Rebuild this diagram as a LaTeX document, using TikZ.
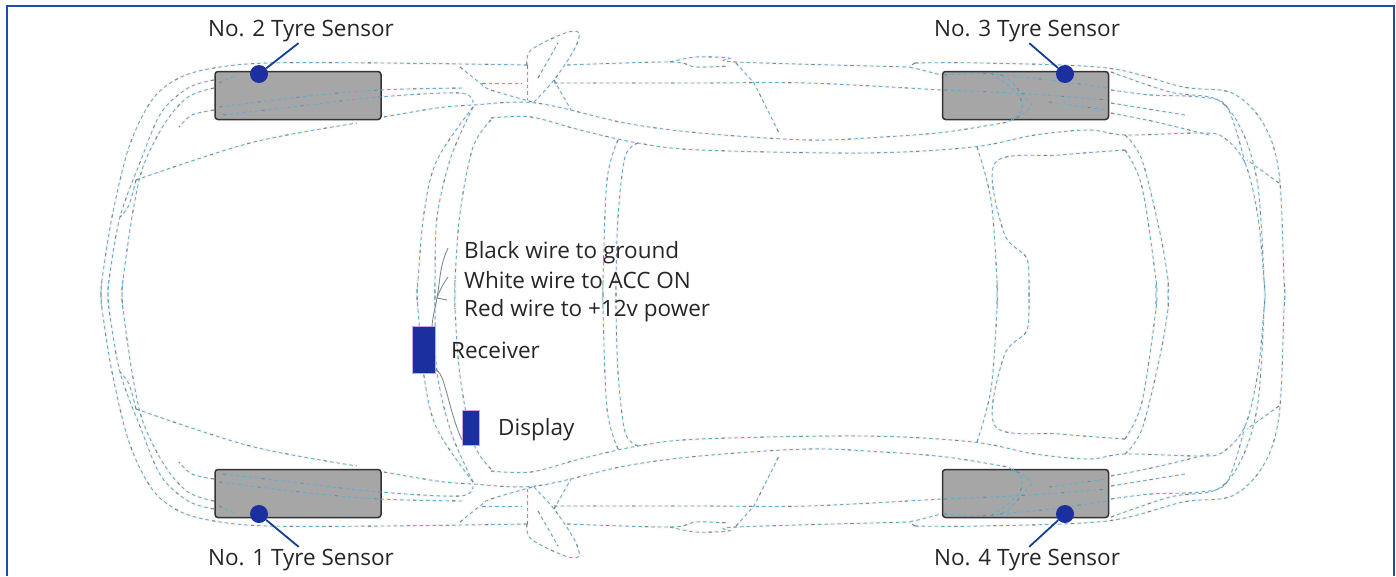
\documentclass[tikz,border=0pt]{standalone}
\usepackage{fontspec}
\setmainfont{Open Sans}
\usepackage{tikz}
\usetikzlibrary{positioning}
\definecolor{frameblue}{HTML}{1F4FA5}
\definecolor{sensorblue}{HTML}{1C2F9E}
\definecolor{leaderblue}{HTML}{123F96}
\definecolor{carblue}{HTML}{5FAFD3}
\definecolor{cargrey}{HTML}{7A8488}
\definecolor{carhalo}{HTML}{FEF6F2}
\definecolor{wheelgrey}{HTML}{A6A6A6}
\definecolor{wiregrey}{HTML}{7F8C90}
\tikzset{
	carline/.style={draw=carblue, line width=0.9pt, dash pattern=on 3.5pt off 3pt,
		postaction={draw=cargrey, line width=0.8pt, dash pattern=on 3pt off 36pt}},
	carglow/.style={draw=carhalo, line width=3pt},
	wheelbox/.style={draw=black!80, fill=wheelgrey, line width=1.5pt, rounded corners=3pt, minimum width=166pt, minimum height=48pt, inner sep=0pt},
	sensordot/.style={circle, fill=sensorblue, minimum size=18pt, inner sep=0pt},
	unitbox/.style={draw=sensorblue!60!magenta!40, fill=sensorblue, line width=0.5pt, inner sep=0pt},
	leader/.style={draw=leaderblue, line width=1.8pt, shorten <=3pt},
	wire/.style={draw=wiregrey, line width=0.9pt},
	caption/.style={font=\fontsize{22.5}{26}\selectfont, text=black!85, inner sep=0pt, text height=16pt, text depth=5pt, anchor=west}
}
% one half of the car, the other half is its mirror image
\newcommand{\carcurve}[1]{\draw[\carstyle] plot[smooth,tension=0.55] coordinates {#1};}
\newcommand{\carhalf}{
	% front end
	\carcurve{(527,65) (384,63) (268,63) (214,68) (179,78) (152,100) (129,147) (112,217) (102,280) (101,294.5) (102,309)}
	\carcurve{(214,80) (188,88) (161,113) (141,160) (120,217) (109,280) (108,294.5) (109,309)}
	\carcurve{(214,88) (188,97) (165,123) (143,167) (132,217) (123,280) (122,294.5) (123,309)}
	\carcurve{(214,110) (192,115) (179,127)}
	\carcurve{(136,180) (250,143) (357,123)}
	\carcurve{(136,180) (129,205) (120,217)}
	\carcurve{(219,107) (300,97) (379,90) (464,88)}
	\carcurve{(223,115) (300,106) (379,97) (460,93) (473,103)}
	\carcurve{(219,83) (237,75)}
	% sweeping sides
	\carcurve{(384,117) (437,108) (473,105) (536,103) (625,123) (700,133) (808,140) (883,137) (946,132) (1008,122)}
	\carcurve{(491,118) (531,117) (580,130) (638,143) (700,150) (866,153) (973,147) (1035,135) (1089,130) (1125,135) (1200,133) (1223,137) (1245,163) (1258,217) (1264,280) (1265,294.5) (1264,309)}
	\carcurve{(460,67) (480,83) (491,90) (536,103)}
	\draw[\carstyle] (482,83) -- (522,83);
	% mirror and sill lines
	\carcurve{(527,65) (531,50) (565,33) (579,33) (574,50) (554,80) (533,103)}
	\carcurve{(538,78) (558,43)}
	\draw[\carstyle] (527,65) -- (527,100);
	\draw[\carstyle] (554,80) -- (571,110);
	\carcurve{(567,65) (670,62) (696,67) (729,66)}
	\carcurve{(670,62) (696,57) (729,58) (736,62) (910,67)}
	\carcurve{(554,83) (700,83) (808,83) (941,90)}
	\draw[\carstyle] (736,63) -- (754,83) -- (779,133);
	% rear end
	\carcurve{(915,63) (982,63) (1107,68) (1183,87) (1232,93) (1263,123) (1279,173) (1284,280) (1285,294.5) (1284,309)}
	\carcurve{(915,63) (910,67) (918,69) (941,75)}
	\carcurve{(1111,72) (1170,92) (1218,100) (1243,133) (1258,187) (1264,280)}
	\carcurve{(1111,90) (1151,95) (1200,97) (1227,107) (1245,163)}
	\carcurve{(1111,103) (1185,115)}
	\carcurve{(1111,113) (1156,122) (1209,135)}
	\draw[\carstyle] (1279,183) -- (1247,160);
	\carcurve{(944,75) (1000,75) (1024,97) (1031,107) (1013,120)}
	\carcurve{(991,73) (1017,93) (1022,110) (1008,122)}
	\carcurve{(1000,75) (1050,80) (1107,88)}
	\carcurve{(944,90) (1030,94) (1107,100)}
	\carcurve{(1049,102) (1107,110)}
	% windows
	\carcurve{(473,107) (437,160) (424,213) (418,280) (417,294.5) (418,309)}
	\carcurve{(473,107) (451,157) (437,217) (435,280) (435,294.5) (435,309)}
	\carcurve{(491,120) (473,147) (460,213) (455,280) (455,294.5) (455,309)}
	\carcurve{(618,140) (607,180) (603,280) (603,294.5) (603,309)}
	\carcurve{(638,143) (625,157) (618,217) (616,280) (616,294.5) (616,309)}
	\carcurve{(977,147) (991,200) (997,280) (997,294.5) (997,309)}
	\carcurve{(1125,150) (1060,155) (995,163) (1004,233) (1026,257) (1029,280) (1029,294.5) (1029,309)}
	\carcurve{(1125,135) (1142,160) (1160,233) (1168,280) (1168,294.5) (1168,309)}
	\carcurve{(1125,150) (1142,187) (1156,280) (1156,294.5) (1156,309)}
}
\begin{document}
\begin{tikzpicture}[x=1pt,y=-1pt]
	\useasboundingbox (0,0) rectangle (1396,576);
	\draw[frameblue, line width=2.5pt] (7,576) -- (7,6) -- (1394,6) -- (1394,576);
	% glow under the wheels
	\def\carstyle{carglow}
	\foreach \flip/\mirrorat in {1/0,-1/589}{
		\begin{scope}[shift={(0,\mirrorat)},yscale=\flip]
			\carhalf
		\end{scope}
	}
	\node[wheelbox] (wheel2) at (298,95.5) {};
	\node[wheelbox] (wheel3) at (1025.5,95.5) {};
	\node[wheelbox] (wheel1) at (298,493.5) {};
	\node[wheelbox] (wheel4) at (1025.5,493.5) {};
	\def\carstyle{carline}
	\foreach \flip/\mirrorat in {1/0,-1/589}{
		\begin{scope}[shift={(0,\mirrorat)},yscale=\flip]
			\carhalf
		\end{scope}
	}
	% sensors and their labels
	\node[sensordot] (sensor2) at (259,74) {};
	\node[sensordot] (sensor3) at (1065,74) {};
	\node[sensordot] (sensor1) at (259,514) {};
	\node[sensordot] (sensor4) at (1065,514) {};
	\node[caption, anchor=center] (label2) at (301,30.5) {No. 2 Tyre Sensor};
	\node[caption, anchor=center] (label3) at (1027,30.5) {No. 3 Tyre Sensor};
	\node[caption, anchor=center] (label1) at (301,559.5) {No. 1 Tyre Sensor};
	\node[caption, anchor=center] (label4) at (1027,559.5) {No. 4 Tyre Sensor};
	\draw[leader] (label2.south) -- (sensor2);
	\draw[leader] (label3.south) -- (sensor3);
	\draw[leader] (label1.north) -- (sensor1);
	\draw[leader] (label4.north) -- (sensor4);
	% receiver and display
	\node[unitbox, minimum width=23pt, minimum height=47pt] (receiver) at (423.5,349.5) {};
	\node[unitbox, minimum width=17pt, minimum height=35pt] (display) at (470.5,427.5) {};
	\node[caption] (receivertext) at (451,352.5) {Receiver};
	\node[caption] (displaytext) at (498,429.5) {Display};
	\node[caption] (blacktext) at (464,252.5) {Black wire to ground};
	\node[caption] (whitetext) at (464,282.5) {White wire to ACC ON};
	\node[caption] (redtext) at (464,310.5) {Red wire to +12v power};
	\coordinate (blackend) at (448,248);
	\coordinate (whiteend) at (448,277);
	\coordinate (redend) at (447,300);
	\coordinate (wirefork) at (437,298);
	\coordinate (wirestart) at (432,326);
	\coordinate (linkstart) at (435,370);
	\coordinate (linkend) at (462,440);
	\draw[wire] (wirestart) to [out=85,in=-100] (wirefork);
	\draw[wire] (wirefork) to [out=80,in=-115] (blackend);
	\draw[wire] (wirefork) to [out=70,in=-125] (whiteend);
	\draw[wire] (wirefork) -- (redend);
	\draw[wire] (linkstart) .. controls (445,370) and (448,410) .. (linkend);
\end{tikzpicture}
\end{document}
